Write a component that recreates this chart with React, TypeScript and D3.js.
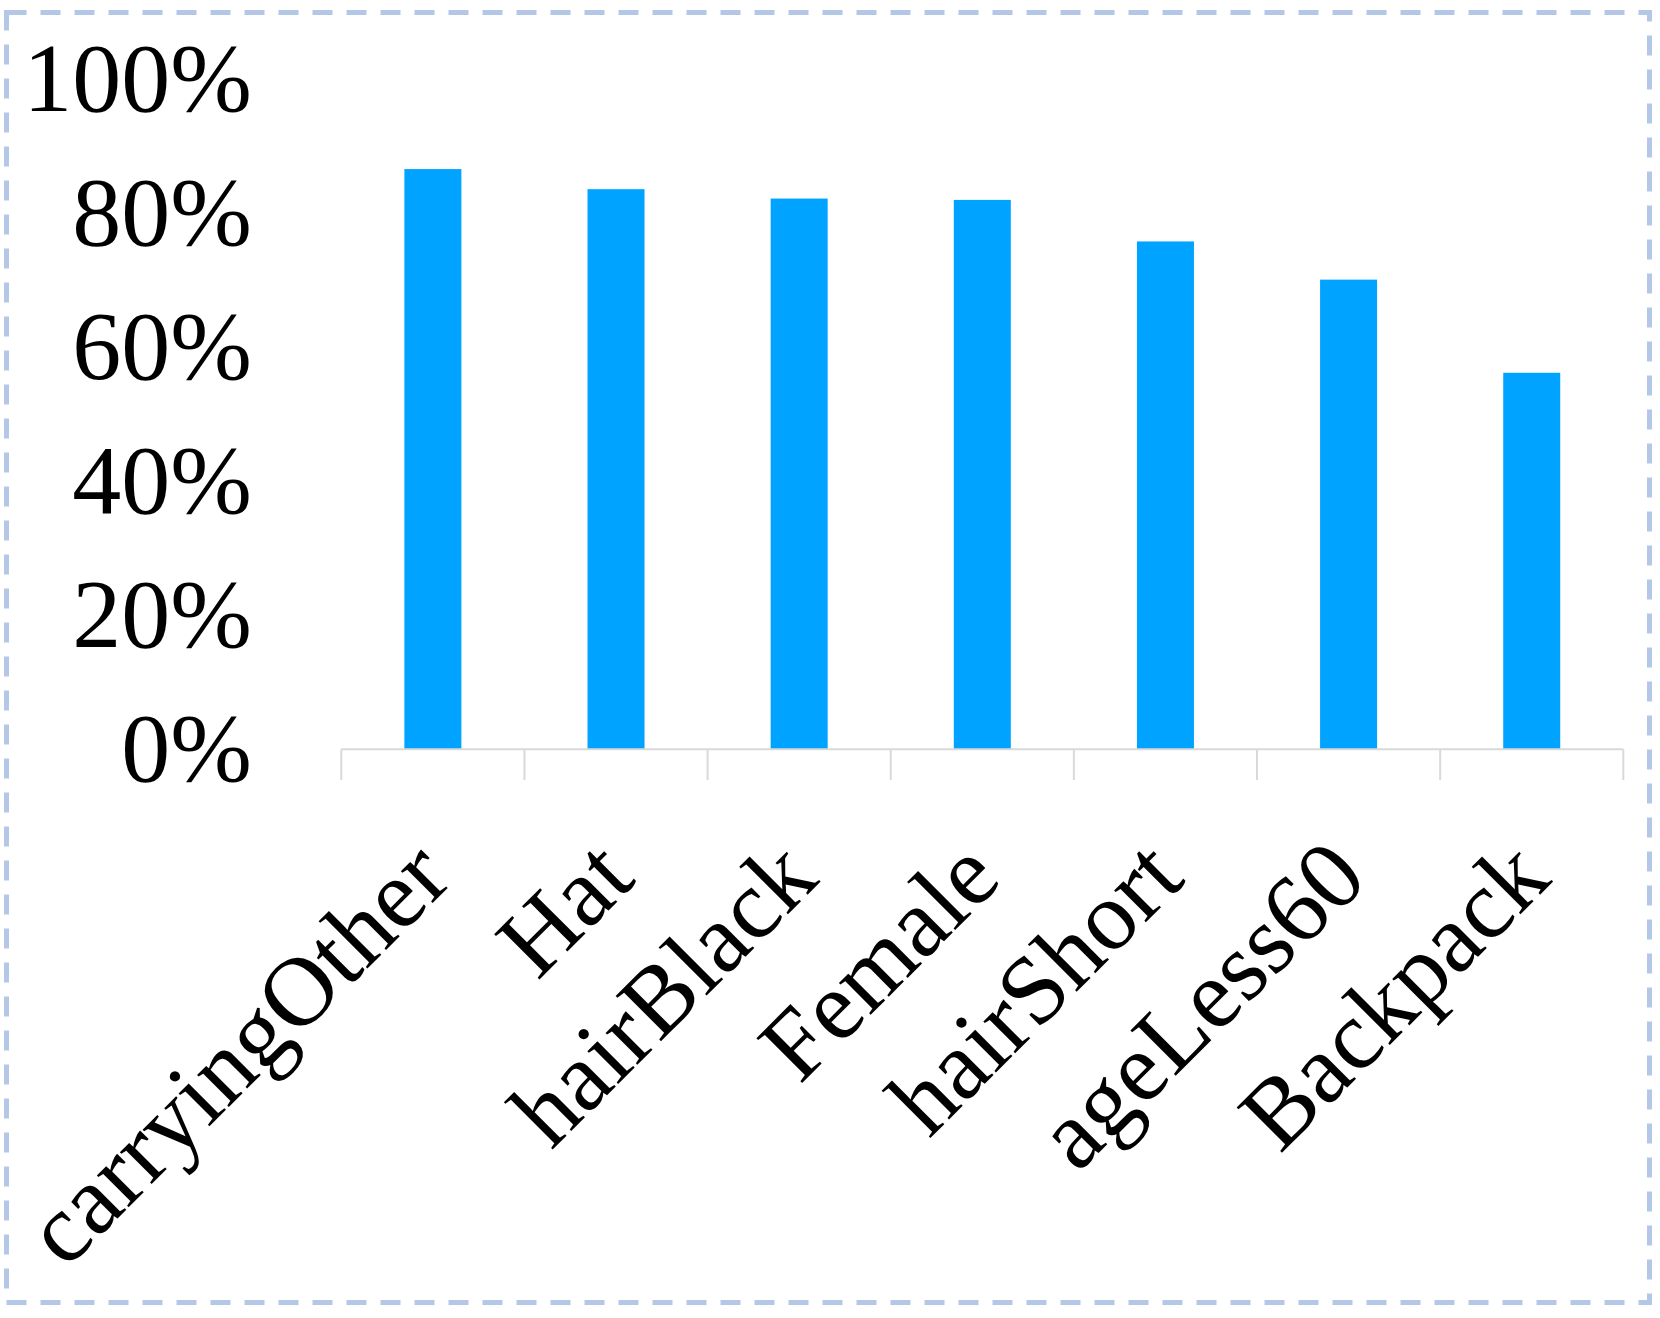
import React from "react";
import * as d3 from "d3";

const categories = ["carryingOther", "Hat", "hairBlack", "Female", "hairShort", "ageLess60", "Backpack"];
const values = [0.866, 0.836, 0.822, 0.82, 0.758, 0.701, 0.562];
const yTicks = [0, 0.2, 0.4, 0.6, 0.8, 1.0];

const W = 1660;
const H = 1318;
const FONT = "'Liberation Serif', 'Times New Roman', serif";

export default function App() {
  const x = d3.scaleBand<string>().domain(categories).range([341.3, 1623.3]).paddingInner(0).paddingOuter(0);
  const y = d3.scaleLinear().domain([0, 1]).range([749.3, 79.3]);
  const bw = x.bandwidth();
  const barW = 57;
  const fmt = d3.format(".0%");
  const y0 = y(0);
  const bounds = [...categories.map((c) => x(c)!), x.range()[1]];

  return (
    <svg width={W} height={H} style={{ position: "absolute", left: 0, top: 0, background: "#fff" }}>
      <rect x={0} y={0} width={W} height={H} fill="#fff" />
      <rect x={6.5} y={12.5} width={1643} height={1290} fill="none" stroke="#b4c7e7" strokeWidth={5} strokeDasharray="20 14" />
      {yTicks.map((t) => (
        <text key={t} x={252} y={y(t) - 1} textAnchor="end" dominantBaseline="central" fontFamily={FONT} fontSize={98} fill="#000">
          {fmt(t)}
        </text>
      ))}
      {categories.map((c, i) => (
        <rect key={c} x={x(c)! + bw / 2 - barW / 2} y={y(values[i])} width={barW} height={y0 - y(values[i])} fill="#00a3ff" />
      ))}
      <line x1={x.range()[0]} x2={x.range()[1]} y1={y0} y2={y0} stroke="#d9d9d9" strokeWidth={2} />
      {bounds.map((b, i) => (
        <line key={i} x1={b} x2={b} y1={y0} y2={780} stroke="#d9d9d9" strokeWidth={2} />
      ))}
      {categories.map((c) => {
        const cx = x(c)! + bw / 2;
        return (
          <text
            key={c}
            transform={`translate(${cx - 27},${833}) rotate(-45)`}
            textAnchor="end"
            dy="0.7em"
            fontFamily={FONT}
            fontSize={98}
            fill="#000"
          >
            {c}
          </text>
        );
      })}
    </svg>
  );
}
